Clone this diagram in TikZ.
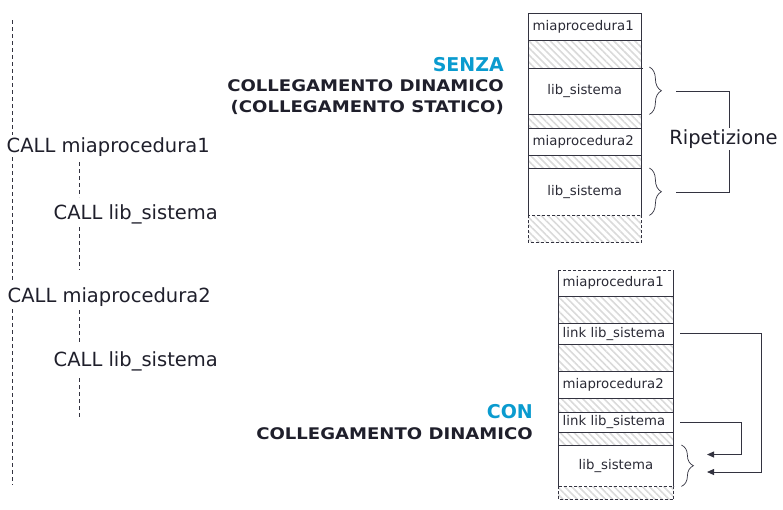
\documentclass[tikz,border=0pt]{standalone}
\usepackage{fontspec}
\setmainfont{DejaVu Sans}
\newfontfamily\headfont{DejaVu Sans}[FakeStretch=1.13]
\usetikzlibrary{patterns.meta,arrows.meta,decorations.pathreplacing}
\definecolor{txt}{HTML}{1F1F2B}
\definecolor{celltxt}{HTML}{2A2A35}
\definecolor{linec}{HTML}{333340}
\definecolor{hatchc}{HTML}{DADADA}
\definecolor{blu}{HTML}{0A9BCF}
\begin{document}
\begin{tikzpicture}[x=1pt,y=-1pt,
  cell/.style={draw=none, minimum width=113pt, minimum height=#1, anchor=north west, inner sep=0pt, font=\fontsize{13.3pt}{15pt}\selectfont, text=celltxt},
  lcell/.style={cell=#1, text width=104pt, align=left, inner xsep=4.5pt},
  ccell/.style={cell=#1, align=center},
  hcell/.style={cell=#1, pattern={Lines[angle=-45,distance=5pt,line width=1.6pt]}, pattern color=hatchc},
  wide/.style={minimum width=115.5pt},
  border/.style={draw=linec, line width=0.9pt},
  dborder/.style={border, dash pattern=on 3pt off 2pt},
  vdash/.style={draw=linec, line width=0.8pt, dash pattern=on 4pt off 3pt},
  calltxt/.style={anchor=base west, inner sep=0pt, text=txt, font=\fontsize{19.5pt}{23pt}\selectfont},
  head/.style={anchor=base east, inner sep=0pt, text=txt, font=\headfont\bfseries\fontsize{16pt}{19pt}\selectfont},
  bluehead/.style={anchor=base east, inner sep=0pt, text=blu, font=\bfseries\fontsize{19pt}{22pt}\selectfont},
  brc/.style={draw=linec, line width=0.7pt, decorate, decoration={brace, amplitude=12pt}},
  conn/.style={draw=linec, line width=0.9pt},
  arr/.style={conn, -{Triangle[length=7pt,width=6pt]}},
]
\useasboundingbox (0,0) rectangle (783,509);

% ---------- top stack ----------
\node[lcell=27] (t1) at (528,13) {miaprocedura1};
\node[hcell=27] (t2) at (528,40) {};
\node[ccell=47] (t3) at (528,67) {lib\_sistema};
\node[hcell=14] (t4) at (528,114) {};
\node[lcell=27] (t5) at (528,128) {miaprocedura2};
\node[hcell=13] (t6) at (528,155) {};
\node[ccell=47] (t7) at (528,168) {lib\_sistema};
\node[hcell=27] (t8) at (528,215) {};
\draw[border] (t8.north west) -- (t1.north west) -- (t1.north east) -- (t8.north east);
\foreach \n in {t1,t2,t3,t4,t5,t6} \draw[border] (\n.south west) -- (\n.south east);
\draw[dborder] (t8.north west) rectangle (t8.south east);

\draw[brc] ([xshift=8pt]t3.north east) -- ([xshift=8pt]t3.south east);
\draw[brc] ([xshift=8pt]t7.north east) -- ([xshift=8pt]t7.south east);

\coordinate (r1) at (676,91);
\coordinate (rc1) at (729,91);
\coordinate (rc2) at (729,192);
\coordinate (r2) at (676,192);
\draw[conn] (r1) -- (rc1) -- (rc2) -- (r2);
\node[fill=white, inner sep=2pt, text=txt, font=\fontsize{19.5pt}{23pt}\selectfont] (rip) at (723.5,139) {Ripetizione};

% ---------- bottom stack ----------
\node[lcell=26, wide, text width=106.5pt] (b1) at (558,270) {miaprocedura1};
\node[hcell=27, wide] (b2) at (558,296) {};
\node[lcell=21, wide, text width=106.5pt] (b3) at (558,323) {link lib\_sistema};
\node[hcell=27, wide] (b4) at (558,344) {};
\node[lcell=27, wide, text width=106.5pt] (b5) at (558,371) {miaprocedura2};
\node[hcell=14, wide] (b6) at (558,398) {};
\node[lcell=20, wide, text width=106.5pt] (b7) at (558,412) {link lib\_sistema};
\node[hcell=13, wide] (b8) at (558,432) {};
\node[ccell=41, wide] (b9) at (558,445) {lib\_sistema};
\node[hcell=13, wide] (b10) at (558,486) {};
\draw[border] (b10.north west) -- (b1.north west);
\draw[border] (b1.north east) -- (b10.north east);
\draw[dborder] (b1.north west) -- (b1.north east);
\foreach \n in {b1,b2,b3,b4,b5,b6,b7,b8} \draw[border] (\n.south west) -- (\n.south east);
\draw[dborder] (b10.north west) rectangle (b10.south east);

\draw[brc] ([xshift=7.5pt]b9.north east) -- ([xshift=7.5pt]b9.south east);

\coordinate (k1) at (761,472);
\coordinate (e1) at (707,472);
\draw[arr] ([xshift=6.5pt]b3.east) -| (k1) -- (e1);
\coordinate (k2) at (741,454.5);
\coordinate (e2) at (707,454.5);
\draw[arr] ([xshift=6.5pt]b7.east) -| (k2) -- (e2);

% ---------- headings ----------
\node[bluehead] (senza) at (504,71.5) {SENZA};
\node[head] (h1) at (504,91.5) {COLLEGAMENTO DINAMICO};
\node[head] (h2) at (504,112.5) {(COLLEGAMENTO STATICO)};
\node[bluehead] (con) at (533,418.5) {CON};
\node[head] (h3) at (533,439) {COLLEGAMENTO DINAMICO};

% ---------- left side ----------
\node[calltxt] (c1) at (6.5,152) {CALL miaprocedura1};
\node[calltxt] (c2) at (53.5,219) {CALL lib\_sistema};
\node[calltxt] (c3) at (7.5,302) {CALL miaprocedura2};
\node[calltxt] (c4) at (53.5,366.5) {CALL lib\_sistema};

\coordinate (L0) at (12,20);
\coordinate (L1) at (12,135);
\coordinate (L2) at (12,157);
\coordinate (L3) at (12,280);
\coordinate (L4) at (12,309);
\coordinate (L5) at (12,485);
\draw[vdash] (L0) -- (L1) (L2) -- (L3) (L4) -- (L5);
\coordinate (M0) at (79,162);
\coordinate (M1) at (79,197);
\coordinate (M2) at (79,227);
\coordinate (M3) at (79,270);
\coordinate (M4) at (79,310);
\coordinate (M5) at (79,343);
\coordinate (M6) at (79,378);
\coordinate (M7) at (79,417);
\draw[vdash] (M0) -- (M1) (M2) -- (M3) (M4) -- (M5) (M6) -- (M7);
\end{tikzpicture}
\end{document}
